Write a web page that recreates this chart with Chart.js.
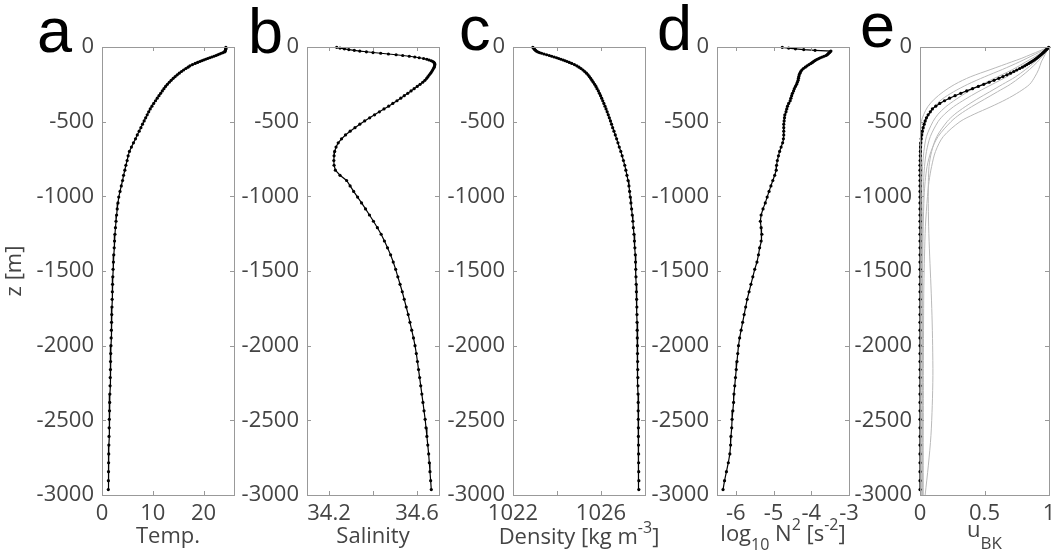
<!DOCTYPE html>
<html>
<head>
<meta charset="utf-8">
<script src="https://cdn.jsdelivr.net/npm/chart.js@4.4.0/dist/chart.umd.min.js"></script>
<style>
  body { margin: 0; background: #fff; overflow: hidden; width: 1053px; height: 552px; position: relative; }
  canvas { position: absolute; top: 0; }
</style>
</head>
<body>
<canvas id="chartA" width="270" height="552" style="left:2px"></canvas>
<canvas id="chartB" width="270" height="552" style="left:207px"></canvas>
<canvas id="chartC" width="270" height="552" style="left:413px"></canvas>
<canvas id="chartD" width="270" height="552" style="left:617px"></canvas>
<canvas id="chartE" width="233" height="552" style="left:820px"></canvas>
<script>
// depth levels [m] of the profiles
var depth = [
  -2, -7, -12, -17, -22, -27, -32, -37, -42, -47,
  -52, -57, -62, -67, -72, -77, -82, -87, -92, -97,
  -103, -110, -118, -126, -135, -144, -154, -164, -175, -186,
  -198, -210, -223, -236, -250, -264, -279, -294, -310, -326,
  -343, -360, -378, -396, -415, -434, -454, -474, -495, -517,
  -540, -564, -589, -615, -642, -670, -699, -729, -760, -792,
  -825, -859, -894, -930, -967, -1005, -1044, -1084, -1125, -1167,
  -1210, -1254, -1299, -1345, -1392, -1440, -1489, -1539, -1589, -1639,
  -1690, -1741, -1792, -1844, -1896, -1948, -2000, -2053, -2106, -2160,
  -2214, -2269, -2324, -2380, -2436, -2493, -2550, -2608, -2666, -2725,
  -2784, -2844, -2904, -2964
]
var temp = [
  24.4, 24.4, 24.4, 24.35, 24.3, 24.25, 24.2, 23.85, 23.5, 23.15,
  22.8, 22.45, 22.05, 21.63, 21.21, 20.8, 20.4, 20.01, 19.63, 19.26,
  18.83, 18.35, 17.82, 17.32, 16.95, 16.52, 16.07, 15.65, 15.22, 14.82,
  14.41, 14.02, 13.62, 13.25, 12.88, 12.52, 12.2, 11.88, 11.55, 11.22,
  10.88, 10.54, 10.18, 9.84, 9.5, 9.2, 8.9, 8.6, 8.3, 7.98,
  7.66, 7.32, 6.95, 6.6, 6.2, 5.8, 5.4, 5.15, 4.95, 4.7,
  4.5, 4.25, 4.05, 3.8, 3.55, 3.3, 3.15, 3.0, 2.88, 2.76,
  2.65, 2.55, 2.47, 2.4, 2.32, 2.25, 2.18, 2.13, 2.08, 2.04,
  2.0, 1.96, 1.92, 1.88, 1.84, 1.8, 1.76, 1.72, 1.69, 1.66,
  1.62, 1.59, 1.55, 1.51, 1.48, 1.44, 1.41, 1.38, 1.35, 1.33,
  1.3, 1.28, 1.26, 1.24
]
var salinity = [
  34.235, 34.25, 34.27, 34.29, 34.315, 34.34, 34.37, 34.40, 34.435, 34.47,
  34.505, 34.535, 34.565, 34.59, 34.61, 34.63, 34.645, 34.655, 34.665, 34.672,
  34.677, 34.68, 34.681, 34.68, 34.678, 34.675, 34.671, 34.667, 34.662, 34.656,
  34.65, 34.644, 34.636, 34.626, 34.614, 34.601, 34.587, 34.573, 34.558, 34.542,
  34.526, 34.509, 34.49, 34.471, 34.45, 34.429, 34.407, 34.385, 34.362, 34.34,
  34.318, 34.296, 34.275, 34.257, 34.242, 34.232, 34.226, 34.223, 34.222, 34.223,
  34.229, 34.25, 34.28, 34.296, 34.312, 34.33, 34.348, 34.366, 34.384, 34.402,
  34.42, 34.437, 34.452, 34.466, 34.48, 34.492, 34.503, 34.513, 34.523, 34.533,
  34.542, 34.551, 34.56, 34.568, 34.576, 34.584, 34.591, 34.597, 34.602, 34.607,
  34.612, 34.617, 34.622, 34.627, 34.632, 34.637, 34.641, 34.645, 34.649, 34.653,
  34.656, 34.659, 34.662, 34.665
]
var density = [
  1022.9, 1022.93, 1022.96, 1022.99, 1023.02, 1023.06, 1023.12, 1023.2, 1023.3, 1023.41,
  1023.53, 1023.65, 1023.76, 1023.87, 1023.98, 1024.08, 1024.18, 1024.28, 1024.37, 1024.46,
  1024.56, 1024.67, 1024.79, 1024.9, 1025.0, 1025.09, 1025.18, 1025.26, 1025.34, 1025.41,
  1025.47, 1025.53, 1025.59, 1025.65, 1025.71, 1025.77, 1025.82, 1025.88, 1025.93, 1025.98,
  1026.03, 1026.08, 1026.13, 1026.18, 1026.23, 1026.28, 1026.33, 1026.38, 1026.43, 1026.48,
  1026.53, 1026.59, 1026.65, 1026.71, 1026.77, 1026.83, 1026.9, 1026.96, 1027.02, 1027.08,
  1027.13, 1027.18, 1027.23, 1027.27, 1027.3, 1027.33, 1027.36, 1027.39, 1027.42, 1027.45,
  1027.47, 1027.5, 1027.52, 1027.54, 1027.56, 1027.57, 1027.58, 1027.59, 1027.6, 1027.61,
  1027.62, 1027.63, 1027.635, 1027.64, 1027.645, 1027.65, 1027.655, 1027.66, 1027.665, 1027.67,
  1027.675, 1027.68, 1027.685, 1027.69, 1027.69, 1027.695, 1027.7, 1027.7, 1027.705, 1027.71,
  1027.71, 1027.715, 1027.72, 1027.72
]
var logN2 = [
  -4.77, -4.6, -4.42, -4.2, -3.9, -3.48, -3.5, -3.52, -3.54, -3.56,
  -3.58, -3.61, -3.66, -3.71, -3.76, -3.8, -3.84, -3.88, -3.91, -3.94,
  -3.97, -4.01, -4.06, -4.11, -4.16, -4.21, -4.25, -4.28, -4.3, -4.32,
  -4.33, -4.34, -4.35, -4.37, -4.39, -4.42, -4.45, -4.47, -4.5, -4.52,
  -4.54, -4.56, -4.6, -4.63, -4.65, -4.67, -4.7, -4.71, -4.72, -4.73,
  -4.73, -4.73, -4.73, -4.74, -4.76, -4.8, -4.84, -4.87, -4.9, -4.92,
  -4.93, -4.97, -5.02, -5.07, -5.12, -5.17, -5.22, -5.28, -5.33, -5.35,
  -5.33, -5.31, -5.33, -5.37, -5.4, -5.44, -5.5, -5.55, -5.6, -5.65,
  -5.7, -5.74, -5.78, -5.82, -5.86, -5.9, -5.93, -5.95, -5.97, -5.99,
  -6.01, -6.03, -6.05, -6.06, -6.08, -6.1, -6.11, -6.13, -6.14, -6.16,
  -6.2, -6.25, -6.3, -6.34
]
var uBK = [
  0.998, 0.992, 0.986, 0.98, 0.974, 0.968, 0.962, 0.956, 0.95, 0.944,
  0.937, 0.93, 0.923, 0.916, 0.909, 0.901, 0.893, 0.885, 0.876, 0.867,
  0.856, 0.843, 0.828, 0.812, 0.793, 0.773, 0.75, 0.727, 0.701, 0.674,
  0.643, 0.611, 0.574, 0.536, 0.494, 0.452, 0.407, 0.362, 0.316, 0.272,
  0.229, 0.19, 0.153, 0.122, 0.096, 0.08, 0.063, 0.05, 0.04, 0.032,
  0.024, 0.018, 0.013, 0.009, 0.006, 0.004, 0.003, 0.002, 0.001, 0,
  0, 0, 0, 0, 0, 0, 0, 0, 0, 0,
  0, 0, 0, 0, 0, 0, 0, 0, 0, 0,
  0, 0, 0, 0, 0, 0, 0, 0, 0, 0,
  0, 0, 0, 0, 0, 0, 0, 0, 0, 0,
  0, 0, 0, 0
]
// thin grey u profiles of panel e
var depthGray = [0, -25, -50, -75, -100, -150, -200, -250, -300, -350, -400, -450, -500, -600,
  -700, -800, -900, -1000, -1200, -1400, -1600, -1800, -2000, -2200, -2400, -2600, -2800, -3000]
var uGray1 = [1, 0.93, 0.86, 0.79, 0.71, 0.55, 0.39, 0.27, 0.18, 0.11, 0.06, 0.03, 0.01, 0,
  0, 0, 0, 0, 0, 0, 0, 0, 0, 0, 0, 0, 0, 0]
var uGray2 = [1, 0.95, 0.89, 0.83, 0.77, 0.64, 0.5, 0.37, 0.26, 0.17, 0.11, 0.07, 0.045, 0.02,
  0.01, 0.006, 0.005, 0.005, 0.005, 0.005, 0.005, 0.005, 0.005, 0.005, 0.005, 0.005, 0.005, 0.005]
var uGray3 = [1, 0.96, 0.92, 0.87, 0.82, 0.72, 0.6, 0.48, 0.37, 0.28, 0.2, 0.14, 0.1, 0.05,
  0.03, 0.02, 0.015, 0.012, 0.01, 0.01, 0.01, 0.01, 0.01, 0.01, 0.01, 0.01, 0.01, 0.01]
var uGray4 = [1, 0.97, 0.94, 0.9, 0.86, 0.77, 0.67, 0.56, 0.45, 0.35, 0.26, 0.19, 0.14, 0.08,
  0.05, 0.035, 0.028, 0.024, 0.02, 0.02, 0.02, 0.02, 0.02, 0.02, 0.02, 0.02, 0.02, 0.02]
var uGray5 = [1, 0.985, 0.97, 0.955, 0.94, 0.92, 0.89, 0.85, 0.77, 0.67, 0.55, 0.42, 0.31, 0.18,
  0.12, 0.09, 0.07, 0.058, 0.042, 0.035, 0.03, 0.028, 0.027, 0.026, 0.026, 0.025, 0.025, 0.025]
var uGray6 = [1, 0.975, 0.95, 0.92, 0.89, 0.82, 0.74, 0.64, 0.54, 0.44, 0.35, 0.27, 0.21, 0.13,
  0.09, 0.07, 0.065, 0.064, 0.067, 0.075, 0.085, 0.093, 0.098, 0.1, 0.095, 0.085, 0.065, 0.04]
var uGray7 = [1, 0.98, 0.96, 0.935, 0.91, 0.85, 0.78, 0.7, 0.6, 0.5, 0.4, 0.31, 0.24, 0.14,
  0.085, 0.055, 0.04, 0.032, 0.025, 0.022, 0.02, 0.02, 0.02, 0.019, 0.018, 0.017, 0.016, 0.015]

// ticks
var yTicks = [0, -500, -1000, -1500, -2000, -2500, -3000]
var tempTicks = [0, 10, 20]
var tempLabels = ['0', '10', '20']
var salTicks = [34.2, 34.4, 34.6]
var salLabels = ['34.2', '', '34.6']
var densTicks = [1022, 1024, 1026, 1028]
var densLabels = ['1022', '', '1026', '']
var n2Ticks = [-6, -5, -4, -3]
var n2Labels = ['-6', '-5', '-4', '-3']
var uTicks = [0, 0.5, 1]
var uLabels = ['0', '0.5', '1']

Chart.defaults.font.family = "'Open Sans', sans-serif"
Chart.defaults.font.size = 22
Chart.defaults.color = '#444'

function pairs(xs, ys) {
    return xs.map(function(v, i) { return {x: v, y: ys[i]} })
}

// box round the axes, inward ticks, panel letter and x label with sub/superscripts
var framePlugin = {
    id: 'frame',
    afterDraw: function(chart, args, opts) {
        var ctx = chart.ctx
        var a = chart.chartArea
        var xs = chart.scales.x, ys = chart.scales.y
        ctx.save()
        ctx.strokeStyle = '#999'
        ctx.lineWidth = 1
        ctx.strokeRect(Math.round(a.left) + 0.5, Math.round(a.top) + 0.5,
            Math.round(a.right - a.left), Math.round(a.bottom - a.top))
        ctx.beginPath()
        xs.ticks.forEach(function(t) {
            var px = Math.round(xs.getPixelForValue(t.value)) + 0.5
            ctx.moveTo(px, a.bottom); ctx.lineTo(px, a.bottom - 4)
            ctx.moveTo(px, a.top); ctx.lineTo(px, a.top + 4)
        })
        ys.ticks.forEach(function(t) {
            var py = Math.round(ys.getPixelForValue(t.value)) + 0.5
            ctx.moveTo(a.left, py); ctx.lineTo(a.left + 4, py)
            ctx.moveTo(a.right, py); ctx.lineTo(a.right - 4, py)
        })
        ctx.stroke()

        ctx.fillStyle = '#000'
        ctx.textBaseline = 'alphabetic'
        ctx.textAlign = 'left'
        ctx.font = '63px "Liberation Sans"'
        ctx.fillText(opts.letter, a.left + opts.letterDx, opts.letterY)

        // x axis label
        ctx.fillStyle = '#444'
        var w = 0
        opts.title.forEach(function(p) {
            ctx.font = p[2] + "px 'Open Sans'"
            w += ctx.measureText(p[0]).width
        })
        var x = (a.left + a.right) / 2 - w / 2
        opts.title.forEach(function(p) {
            ctx.font = p[2] + "px 'Open Sans'"
            ctx.fillText(p[0], x, opts.titleY + p[1])
            x += ctx.measureText(p[0]).width
        })
        ctx.restore()
    }
}

function makePanel(id, xMin, xMax, xTicks, xLabels, datasets, frame, yTitle) {
    var canvas = document.getElementById(id)
    var ctx = canvas.getContext('2d')
    return new Chart(ctx, {
        type: 'scatter',
        data: { datasets: datasets },
        options: {
            responsive: false,
            animation: false,
            devicePixelRatio: 1,
            layout: { padding: { top: 47, right: canvas.width - 232, left: 0, bottom: 0 } },
            plugins: {
                legend: { display: false },
                tooltip: { enabled: false },
                frame: frame
            },
            scales: {
                x: {
                    type: 'linear',
                    min: xMin,
                    max: xMax,
                    grid: { display: false, drawTicks: false },
                    border: { display: false },
                    afterBuildTicks: function(scale) {
                        scale.ticks = xTicks.map(function(v) { return {value: v} })
                    },
                    afterFit: function(scale) {
                        scale.height = 57
                        scale.paddingLeft = 0
                        scale.paddingRight = 0
                    },
                    ticks: {
                        padding: 6,
                        maxRotation: 0,
                        autoSkip: false,
                        callback: function(value, index) { return xLabels[index] }
                    }
                },
                y: {
                    type: 'linear',
                    min: -3000,
                    max: 0,
                    grid: { display: false, drawTicks: false },
                    border: { display: false },
                    title: {
                        display: !!yTitle,
                        text: yTitle || '',
                        padding: 0,
                        font: { size: 22 }
                    },
                    afterBuildTicks: function(scale) {
                        scale.ticks = yTicks.map(function(v) { return {value: v} })
                    },
                    afterFit: function(scale) {
                        scale.width = 100
                        scale.paddingTop = 0
                        scale.paddingBottom = 0
                    },
                    ticks: {
                        padding: 8,
                        autoSkip: false,
                        callback: function(value) { return String(value) }
                    }
                }
            }
        },
        plugins: [framePlugin]
    })
}

function profile(xs) {
    return {
        data: pairs(xs, depth),
        showLine: true,
        borderColor: '#000',
        borderWidth: 1.2,
        pointRadius: 1.6,
        pointBorderWidth: 0,
        pointBackgroundColor: '#000',
        clip: false
    }
}

function grayLine(xs) {
    return {
        data: pairs(xs, depthGray),
        showLine: true,
        borderColor: 'rgb(185,185,185)',
        borderWidth: 1,
        pointRadius: 0,
        tension: 0.3
    }
}

makePanel('chartA', 0, 26, tempTicks, tempLabels, [profile(temp)],
    { letter: 'a', letterDx: -65, letterY: 52, titleY: 543, title: [['Temp.', 0, 22]] }, 'z [m]')

makePanel('chartB', 34.1, 34.7, salTicks, salLabels, [profile(salinity)],
    { letter: 'b', letterDx: -59, letterY: 53, titleY: 543, title: [['Salinity', 0, 22]] })

makePanel('chartC', 1022, 1028, densTicks, densLabels, [profile(density)],
    { letter: 'c', letterDx: -54, letterY: 50, titleY: 544,
      title: [['Density [kg m', 0, 22], ['-3', -11, 16], [']', 0, 22]] })

makePanel('chartD', -6.5, -3, n2Ticks, n2Labels, [profile(logN2)],
    { letter: 'd', letterDx: -60, letterY: 50, titleY: 541,
      title: [['log', 0, 22], ['10', 9, 16], [' N', 0, 22], ['2', -11, 16], [' [s', 0, 22], ['-2', -11, 16], [']', 0, 22]] })

makePanel('chartE', 0, 1, uTicks, uLabels,
    [profile(uBK), grayLine(uGray1), grayLine(uGray2), grayLine(uGray3), grayLine(uGray4),
     grayLine(uGray5), grayLine(uGray6), grayLine(uGray7)],
    { letter: 'e', letterDx: -60, letterY: 47, titleY: 537, title: [['u', 0, 22], ['BK', 12, 17]] })
</script>
</body>
</html>
